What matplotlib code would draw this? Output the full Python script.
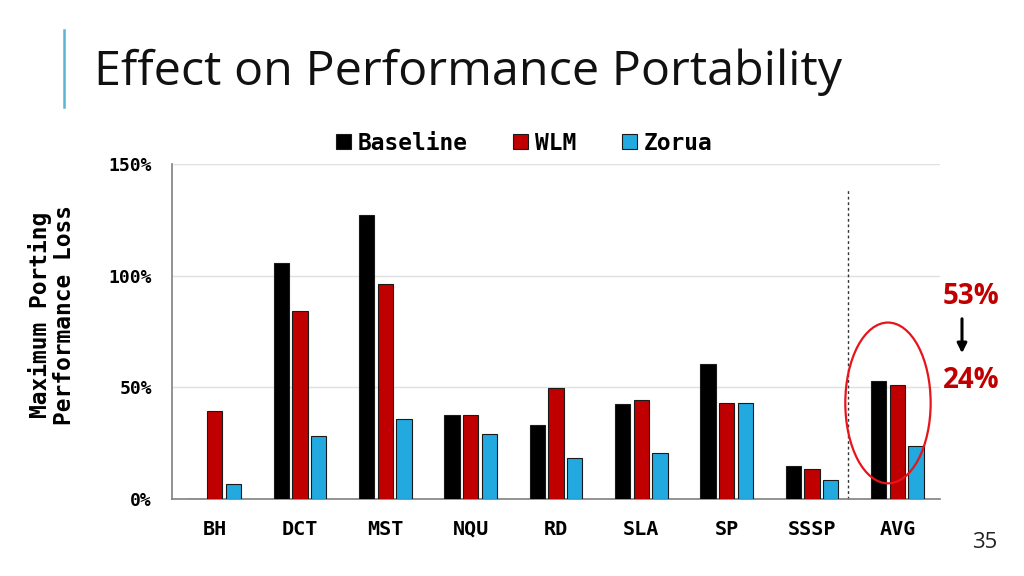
import numpy as np
import matplotlib
matplotlib.use('Agg')
import matplotlib.pyplot as plt
from matplotlib.patches import Ellipse, Patch

# data
categories = ['BH', 'DCT', 'MST', 'NQU', 'RD', 'SLA', 'SP', 'SSSP', 'AVG']
baseline = [0, 105.7, 127.2, 37.6, 33.1, 42.5, 60.5, 14.8, 52.8]
wlm = [39.4, 84.2, 96.3, 37.6, 49.7, 44.3, 43.0, 13.4, 51.0]
zorua = [6.7, 28.2, 35.8, 29.1, 18.4, 20.6, 43.0, 8.5, 23.7]
series_names = ['Baseline', 'WLM', 'Zorua']
yticks = [0, 50, 100, 150]

colors = ['#000000', '#C00000', '#22A9E0']
mono = 'DejaVu Sans Mono'
sans = 'Open Sans'

fig = plt.figure(figsize=(10.24, 5.76), dpi=100)
ax = fig.add_axes([0.168, 0.1337, 0.75, 0.5816])

x = np.arange(len(categories))
w = 0.18
off = 0.22
for i, (vals, col) in enumerate(zip([baseline, wlm, zorua], colors)):
    ax.bar(x + (i - 1) * off, vals, width=w, color=col,
           edgecolor='#1a1a1a', linewidth=0.8, zorder=3)

ax.set_xlim(-0.5, len(categories) - 0.5)
ax.set_ylim(0, 150)
ax.set_yticks(yticks)
ax.set_yticklabels([f'{t}%' for t in yticks], fontfamily=mono,
                   fontweight='bold', fontsize=13)
ax.set_xticks(x)
ax.set_xticklabels(categories, fontfamily=mono, fontweight='bold', fontsize=14.5)
ax.tick_params(length=0)
ax.tick_params(axis='y', pad=14.5)
ax.tick_params(axis='x', pad=15)
ax.grid(axis='y', color='#e0e0e0', linewidth=1, zorder=0)
for s in ['top', 'right']:
    ax.spines[s].set_visible(False)
for s in ['left', 'bottom']:
    ax.spines[s].set_color('#808080')
    ax.spines[s].set_linewidth(1.2)

# separator before the average group
ax.plot([7.42, 7.42], [0, 139], linestyle=(0, (2, 2)), color='#333333',
        linewidth=1.0, zorder=2, clip_on=False)

# highlight around AVG
ax.add_patch(Ellipse((7.89, 43), 1.0, 72, fill=False, edgecolor='#E8141B',
                     linewidth=1.6, zorder=4))

fig.text(0.051, 1 - 315 / 576, 'Maximum Porting\nPerformance Loss', rotation=90,
         ha='center', va='center', fontfamily=mono, fontweight='bold',
         fontsize=16.5, linespacing=1.05)

handles = [Patch(facecolor=c, edgecolor='#1a1a1a', linewidth=0.8) for c in colors]
fig.legend(handles, series_names, loc='center', bbox_to_anchor=(0.512, 1 - 143 / 576),
           ncol=3, frameon=False, handlelength=0.65, handleheight=0.65,
           handletextpad=0.3, columnspacing=2.0,
           prop={'family': mono, 'weight': 'bold', 'size': 16.5})

# title bar and title
fig.add_artist(plt.Line2D([64 / 1024, 64 / 1024], [1 - 30 / 576, 1 - 107 / 576],
                          color='#5BB5D0', linewidth=1.8))
fig.text(94 / 1024, 1 - 72 / 576, 'Effect on Performance Portability',
         ha='left', va='center', fontfamily=sans, fontsize=34.8, color='#111111')

# 53% -> 24%
fig.text(971 / 1024, 1 - 297 / 576, '53%', ha='center', va='center',
         fontfamily=sans, fontweight='bold', fontsize=20, color='#C00000')
fig.text(971 / 1024, 1 - 381 / 576, '24%', ha='center', va='center',
         fontfamily=sans, fontweight='bold', fontsize=20, color='#C00000')
fig.add_artist(matplotlib.patches.FancyArrowPatch(
    (962 / 1024, 1 - 316 / 576), (962 / 1024, 1 - 356 / 576),
    transform=fig.transFigure, arrowstyle='-|>', mutation_scale=14,
    color='black', linewidth=2.2))

fig.text(985 / 1024, 1 - 543 / 576, '35', ha='center', va='center',
         fontfamily=sans, fontsize=16, color='#222222')

fig.savefig('out.png', dpi=100)
